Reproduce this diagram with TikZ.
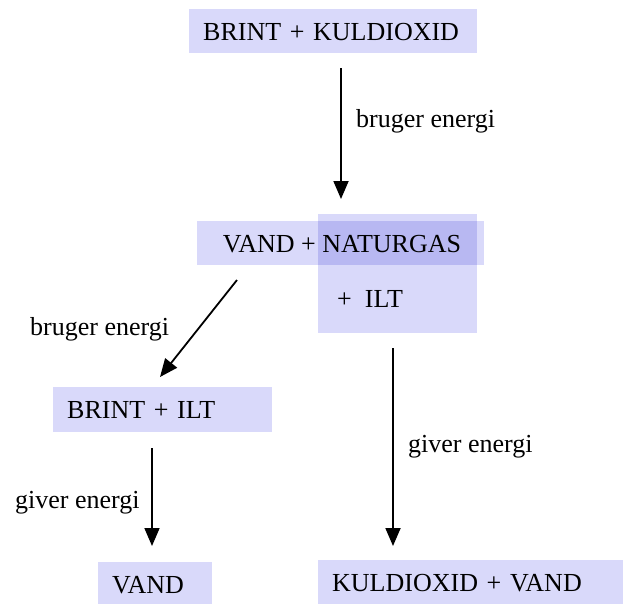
\documentclass[tikz,border=0pt]{standalone}
\usepackage{fontspec}
\setmainfont{Liberation Serif}
\usetikzlibrary{arrows.meta}

\definecolor{feltfarve}{RGB}{217,217,250}
\definecolor{dobbeltfarve}{RGB}{184,184,242}

\tikzset{
    felt/.style={fill=feltfarve, anchor=north west, inner xsep=14pt, inner ysep=0pt,
        minimum height=45pt, text height=18pt, text depth=0pt, align=left},
    pil/.style={-{Triangle[width=15pt,length=18pt]}, line width=1.8pt},
    tekst/.style={anchor=base west, inner sep=0pt}
}

\begin{document}
\begin{tikzpicture}[x=1pt,y=-1pt,font=\fontsize{26}{30}\selectfont]
        \useasboundingbox (0,0) rectangle (623,603);

        \node[felt, text width=260pt, minimum height=44pt] (brintkul) at (189,9) {BRINT + KULDIOXID};

        \node[felt, minimum width=159pt, minimum height=119pt] (ilt) at (318,214) {};
        \node[felt, minimum width=287pt, minimum height=44pt] (vandgas) at (197,221) {};
        \fill[dobbeltfarve] (ilt.west |- vandgas.north) rectangle (ilt.east |- vandgas.south);
        \node[tekst, anchor=base] (vandgastekst) at (342,252) {VAND + NATURGAS};
        \node[tekst] (ilttekst) at (337,307) {+\ \ ILT};

        \node[felt, text width=191pt] (brintilt) at (53,387) {BRINT + ILT};
        \node[felt, text width=86pt] (vand) at (98,562) {VAND};
        \node[felt, text width=277pt] (kuldvand) at (318,560) {KULDIOXID + VAND};

        \node[tekst] (bruger1) at (356,127) {bruger energi};
        \node[tekst] (bruger2) at (30,335) {bruger energi};
        \node[tekst] (giver1) at (15,508) {giver energi};
        \node[tekst] (giver2) at (408,452) {giver energi};

        \coordinate (fra1) at (341,68);
        \coordinate (til1) at (341,199);
        \coordinate (fra2) at (237,280);
        \coordinate (til2) at (160,377);
        \coordinate (fra3) at (152,448);
        \coordinate (til3) at (152,546);
        \coordinate (fra4) at (393,348);
        \coordinate (til4) at (393,546);

        \draw[pil] (fra1) -- (til1);
        \draw[pil] (fra2) -- (til2);
        \draw[pil] (fra3) -- (til3);
        \draw[pil] (fra4) -- (til4);
    \end{tikzpicture}
\end{document}
